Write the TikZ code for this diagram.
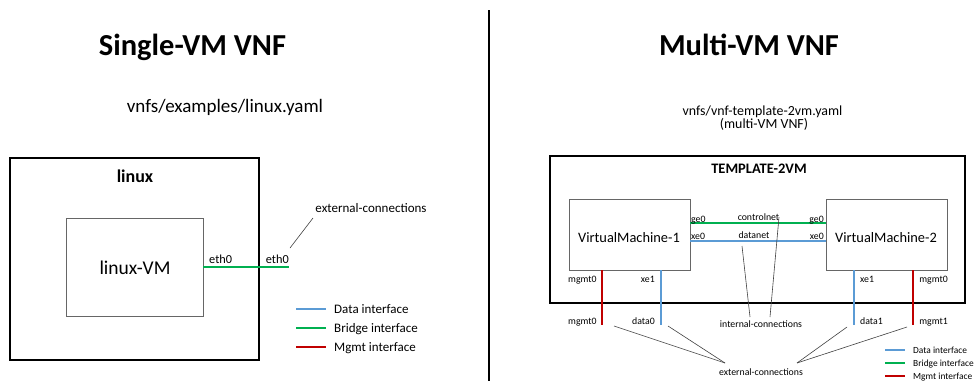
\documentclass[tikz,border=0pt]{standalone}
\usepackage{fontspec}
\setmainfont{Carlito}
\usetikzlibrary{positioning,calc}

\definecolor{datablue}{RGB}{91,155,213}
\definecolor{bridgegreen}{RGB}{0,176,80}
\definecolor{mgmtred}{RGB}{192,0,0}
\newcommand{\pxfont}[1]{\fontsize{#1}{#1}\selectfont}

\begin{document}
\begin{tikzpicture}[
    x=1pt, y=-1pt,
    title/.style={font=\pxfont{30.5}\bfseries, anchor=base, inner sep=0pt},
    subtitle/.style={font=\pxfont{19}, anchor=base, inner sep=0pt},
    outerbox/.style={draw=black, line width=2.3pt, inner sep=0pt},
    vmbox/.style={draw=black!60, line width=0.9pt, inner sep=0pt},
    boxname/.style={font=\pxfont{14.5}\bfseries, anchor=base, inner sep=0pt},
    vmname/.style={anchor=base, inner sep=0pt},
    port/.style={font=\pxfont{9.8}, inner sep=0pt},
    note/.style={font=\pxfont{9.8}, anchor=base, inner sep=0pt},
    leader/.style={black!75, line width=0.6pt},
    data/.style={datablue, line width=2.6pt},
    bridge/.style={bridgegreen, line width=2.6pt},
    mgmt/.style={mgmtred, line width=2.6pt}
]
\useasboundingbox (0,0) rectangle (974,381);

% ---- headings and divider ----
\node[title] (single) at (192.5,55) {Single-VM VNF};
\node[title] (multi) at (749,55) {Multi-VM VNF};
\node[subtitle] (linuxyaml) at (225,112) {vnfs/examples/linux.yaml};
\node[subtitle, font=\pxfont{13.9}] (tplyaml) at (762.5,115) {vnfs/vnf-template-2vm.yaml};
\node[subtitle, font=\pxfont{13.9}] (tplnote) at (764,128) {(multi-VM VNF)};
\coordinate (divtop) at (489,10);
\coordinate (divbot) at (489,381);
\draw[line width=2.6pt] (divtop) -- (divbot);

% ---- single-VM VNF ----
\node[outerbox, minimum width=249, minimum height=202] (linuxbox) at (134.5,259) {};
\node[boxname, font=\pxfont{18}\bfseries] (linuxname) at (135,182) {linux};
\node[vmbox, minimum width=137, minimum height=98] (linuxvm) at (134.5,267) {};
\node[vmname, font=\pxfont{19.5}] (linuxvmname) at (135,274) {linux-VM};

\coordinate (ethout) at (289,267);
\draw[bridge] (linuxvm.east) -- (ethout);
\node[port, font=\pxfont{12.3}, anchor=base west] (eth0in) at (209,263) {eth0};
\node[port, font=\pxfont{12.3}, anchor=base east] (eth0out) at (289,263) {eth0};

\node[note, font=\pxfont{13}] (extleft) at (371,212) {external-connections};
\coordinate (extlefttip) at (290,248);
\draw[leader] (313,218) -- (extlefttip);

% legend, single
\node[note, font=\pxfont{13}, anchor=base west] (legdata) at (334,313) {Data interface};
\node[note, font=\pxfont{13}, anchor=base west] (legbridge) at (334,332) {Bridge interface};
\node[note, font=\pxfont{13}, anchor=base west] (legmgmt) at (334,351) {Mgmt interface};
\draw[data] (legdata.base west) ++(-38,-4) -- ++(30,0);
\draw[bridge] (legbridge.base west) ++(-38,-4) -- ++(30,0);
\draw[mgmt] (legmgmt.base west) ++(-38,-4) -- ++(30,0);

% ---- multi-VM VNF ----
\node[outerbox, line width=1.8pt, minimum width=415, minimum height=147] (tplbox) at (757.5,229.5) {};
\node[boxname] (tplname) at (759,173) {TEMPLATE-2VM};
\node[vmbox, minimum width=121, minimum height=71] (vm1) at (629.5,234.5) {};
\node[vmbox, minimum width=121, minimum height=71] (vm2) at (886.5,234.5) {};
\node[vmname, font=\pxfont{14.4}] (vm1name) at (629,242) {VirtualMachine-1};
\node[vmname, font=\pxfont{14.4}] (vm2name) at (886,242) {VirtualMachine-2};

% internal links
\coordinate (ctl) at (0,223);
\coordinate (dat) at (0,241);
\draw[bridge] (vm1.east |- ctl) -- (vm2.west |- ctl);
\draw[data] (vm1.east |- dat) -- (vm2.west |- dat);
\node[port, anchor=base west] (ge0a) at (691,222) {ge0};
\node[port, anchor=base east] (ge0b) at (824,222) {ge0};
\node[port, anchor=base west] (xe0a) at (691,239) {xe0};
\node[port, anchor=base east] (xe0b) at (824,239) {xe0};
\node[note] (controlnet) at (758.5,220) {controlnet};
\node[note] (datanet) at (754,238) {datanet};

% external links
\coordinate (mgA) at (602,325);
\coordinate (dtA) at (661,325);
\coordinate (dtB) at (854,325);
\coordinate (mgB) at (913,325);
\draw[mgmt] (vm1.south -| mgA) -- (mgA);
\draw[data] (vm1.south -| dtA) -- (dtA);
\draw[data] (vm2.south -| dtB) -- (dtB);
\draw[mgmt] (vm2.south -| mgB) -- (mgB);
\node[port, anchor=base west] (mgmt0a) at (568,282) {mgmt0};
\node[port, anchor=base east] (xe1a) at (655,282) {xe1};
\node[port, anchor=base west] (xe1b) at (860,282) {xe1};
\node[port, anchor=base east] (mgmt0b) at (948,282) {mgmt0};
\node[port, anchor=base west] (mgmt0c) at (568,324) {mgmt0};
\node[port, anchor=base east] (data0) at (655,324) {data0};
\node[port, anchor=base west] (data1) at (860,324) {data1};
\node[port, anchor=base east] (mgmt1) at (948,324) {mgmt1};

% leader lines
\node[note] (intconn) at (761,327) {internal-connections};
\node[note] (extright) at (761,375) {external-connections};
\coordinate (inttipA) at (742,246);
\coordinate (inttipB) at (779,217);
\draw[leader] (750,317) -- (inttipA);
\draw[leader] (770,317) -- (inttipB);
\coordinate (exttipA) at (614,326);
\coordinate (exttipB) at (668,326);
\coordinate (exttipC) at (847,327);
\coordinate (exttipD) at (907,327);
\draw[leader] (725,363) -- (exttipA);
\draw[leader] (725,363) -- (exttipB);
\draw[leader] (797,363) -- (exttipC);
\draw[leader] (797,363) -- (exttipD);

% legend, multi
\node[note, font=\pxfont{9.4}, anchor=base west] (legdata2) at (913,353) {Data interface};
\node[note, font=\pxfont{9.4}, anchor=base west] (legbridge2) at (913,366) {Bridge interface};
\node[note, font=\pxfont{9.4}, anchor=base west] (legmgmt2) at (913,379) {Mgmt interface};
\draw[data, line width=2.2pt] (legdata2.base west) ++(-28,-3) -- ++(20,0);
\draw[bridge, line width=2.2pt] (legbridge2.base west) ++(-28,-3) -- ++(20,0);
\draw[mgmt, line width=2.2pt] (legmgmt2.base west) ++(-28,-3) -- ++(20,0);

\end{tikzpicture}
\end{document}
